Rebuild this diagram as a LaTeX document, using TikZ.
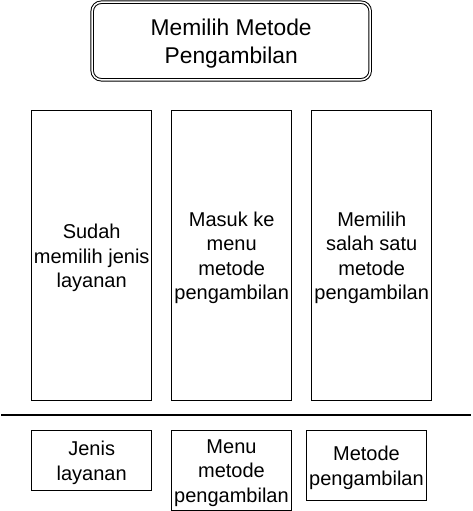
\documentclass[tikz,border=0pt]{standalone}
\usepackage{fontspec}
\setmainfont{Liberation Sans}
\begin{document}
\begin{tikzpicture}[x=1pt,y=-1pt,
  frame/.style={draw, line width=1pt, inner sep=0pt, minimum width=120pt},
  boxtext/.style={align=center, inner sep=0pt, font=\fontsize{20}{24.5}\selectfont},
  titlebox/.style={draw, line width=1pt, double, double distance=1.5pt, rounded corners=9pt, inner sep=0pt, minimum width=278pt, minimum height=77.5pt},
  titletext/.style={align=center, inner sep=0pt, font=\fontsize{22.8}{28.5}\selectfont},
  sepline/.style={line width=2pt}]
\useasboundingbox (0,0) rectangle (472,511);
\node[titlebox] (title) at (231.2,41) {};
\node[titletext] (titlet) at ([yshift=-2.5pt]title.center) {Memilih Metode\\Pengambilan};
\node[frame, minimum height=290pt] (s1) at (91.7,255) {};
\node[boxtext] (s1t) at ([yshift=-3pt]s1.center) {Sudah\\memilih jenis\\layanan};
\node[frame, minimum height=290pt] (s2) at (231.7,255) {};
\node[boxtext] (s2t) at ([yshift=-3pt]s2.center) {Masuk ke\\menu\\metode\\pengambilan};
\node[frame, minimum height=290pt] (s3) at (371.7,255) {};
\node[boxtext] (s3t) at ([yshift=-3pt]s3.center) {Memilih\\salah satu\\metode\\pengambilan};
\coordinate (l1) at (1,415);
\coordinate (l2) at (471,415);
\draw[sepline] (l1) -- (l2);
\node[frame, minimum height=60pt] (b1) at (91.7,460) {};
\node[boxtext] (b1t) at ([yshift=-3pt]b1.center) {Jenis\\layanan};
\node[frame, minimum height=80pt] (b2) at (231.5,470) {};
\node[boxtext] (b2t) at ([yshift=-3pt]b2.center) {Menu\\metode\\pengambilan};
\node[frame, minimum height=70pt] (b3) at (366.5,465) {};
\node[boxtext] (b3t) at ([yshift=-3pt]b3.center) {Metode\\pengambilan};
\end{tikzpicture}
\end{document}
